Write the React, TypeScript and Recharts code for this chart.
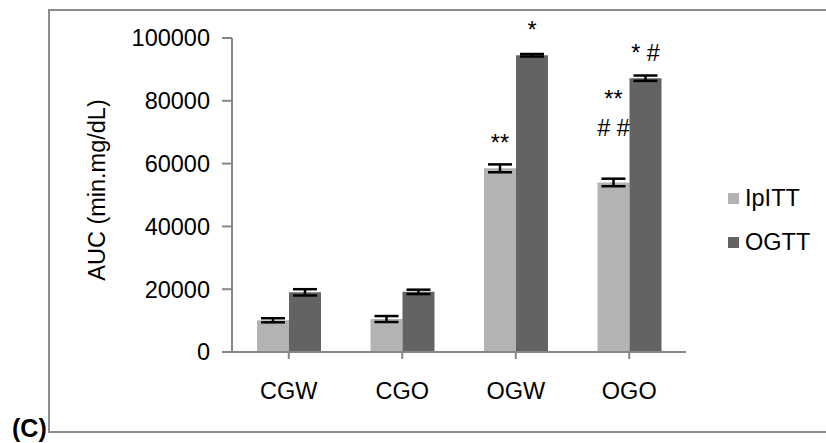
import React from 'react';
import { BarChart, Bar, XAxis, YAxis, ErrorBar, Legend, LabelList } from 'recharts';

const categories = ['CGW', 'CGO', 'OGW', 'OGO'];
const ipittValues = [10100, 10500, 58500, 54000];
const ipittErrors = [650, 950, 1250, 1200];
const ogttValues = [19000, 19150, 94500, 87200];
const ogttErrors = [1000, 700, 400, 850];
const ipittMarks = ['', '', '**', '**|# #|'];
const ogttMarks = ['', '', '*', '* #'];
const yTicks = [0, 20000, 40000, 60000, 80000, 100000];
const seriesNames = ['IpITT', 'OGTT'];
const seriesColors = ['#b3b3b3', '#636363'];

const data = categories.map((c, i) => ({
  name: c,
  ipitt: ipittValues[i],
  ipittErr: ipittErrors[i],
  ipittMark: ipittMarks[i],
  ogtt: ogttValues[i],
  ogttErr: ogttErrors[i],
  ogttMark: ogttMarks[i],
}));

const FONT = '"Liberation Sans", Arial, sans-serif';
const FS = 23.5;

const MarkLabel = (props: any) => {
  const { x, y, width, value } = props;
  if (!value) return null;
  const lines = String(value).split('|');
  const cx = Number(x) + Number(width) / 2;
  const bottom = Number(y) - 17;
  return (
    <g>
      {lines.map((ln, k) => (
        <text
          key={k}
          x={cx}
          y={bottom - (lines.length - 1 - k) * 29}
          textAnchor="middle"
          fontFamily={FONT}
          fontSize={FS}
          fill="#000"
        >
          {ln}
        </text>
      ))}
    </g>
  );
};

const LegendContent = () => (
  <div style={{ fontFamily: FONT, fontSize: FS, color: '#000' }}>
    {seriesNames.map((n, i) => (
      <div key={n} style={{ display: 'flex', alignItems: 'center', height: 43.5 }}>
        <span style={{ display: 'inline-block', width: 11, height: 11, background: seriesColors[i], marginRight: 6 }} />
        <span>{n}</span>
      </div>
    ))}
  </div>
);

const YLabel = () => (
  <text
    x={97}
    y={190}
    transform="rotate(-90 97 190)"
    textAnchor="middle"
    dominantBaseline="central"
    fontFamily={FONT}
    fontSize={FS}
    fill="#000"
  >
    AUC (min.mg/dL)
  </text>
);

export default function App() {
  return (
    <div style={{ position: 'absolute', left: 0, top: 0, width: 826, height: 443, overflow: 'hidden', background: '#fff' }}>
      <div
        style={{
          position: 'absolute',
          left: 48,
          top: 9,
          width: 840,
          height: 420,
          borderLeft: '2px solid #8c8c8c',
          borderTop: '2px solid #8c8c8c',
          borderBottom: '2px solid #8c8c8c',
        }}
      />
      <div
        style={{
          position: 'absolute',
          left: 12,
          top: 415,
          fontFamily: FONT,
          fontSize: 25,
          fontWeight: 'bold',
          lineHeight: '26px',
        }}
      >
        (C)
      </div>
      <div style={{ position: 'absolute', left: 0, top: 0 }}>
        <BarChart
          width={826}
          height={443}
          data={data}
          margin={{ top: 38, right: 140, bottom: 31, left: 0 }}
          barGap={0}
          barSize={32}
        >
          <XAxis
            dataKey="name"
            height={60}
            axisLine={{ stroke: '#868686', strokeWidth: 2 }}
            tickLine={{ stroke: '#868686', strokeWidth: 2 }}
            tickSize={7}
            tickMargin={23}
            tick={{ fontFamily: FONT, fontSize: FS, fill: '#000' }}
            interval={0}
          />
          <YAxis
            width={232}
            domain={[0, 100000]}
            ticks={yTicks}
            interval={0}
            axisLine={{ stroke: '#868686', strokeWidth: 2 }}
            tickLine={{ stroke: '#868686', strokeWidth: 2 }}
            tickSize={10}
            tickMargin={12}
            tick={{ fontFamily: FONT, fontSize: FS, fill: '#000' }}
            label={<YLabel />}
          />
          <Legend
            layout="horizontal"
            verticalAlign="middle"
            align="center"
            content={<LegendContent />}
            wrapperStyle={{ position: 'absolute', left: 728, top: 177, width: 100 }}
          />
          <Bar dataKey="ipitt" name={seriesNames[0]} fill={seriesColors[0]} isAnimationActive={false}>
            <ErrorBar dataKey="ipittErr" width={12} stroke="#000" strokeWidth={2.5} />
            <LabelList dataKey="ipittMark" content={<MarkLabel />} />
          </Bar>
          <Bar dataKey="ogtt" name={seriesNames[1]} fill={seriesColors[1]} isAnimationActive={false}>
            <ErrorBar dataKey="ogttErr" width={12} stroke="#000" strokeWidth={2.5} />
            <LabelList dataKey="ogttMark" content={<MarkLabel />} />
          </Bar>
        </BarChart>
      </div>
    </div>
  );
}
